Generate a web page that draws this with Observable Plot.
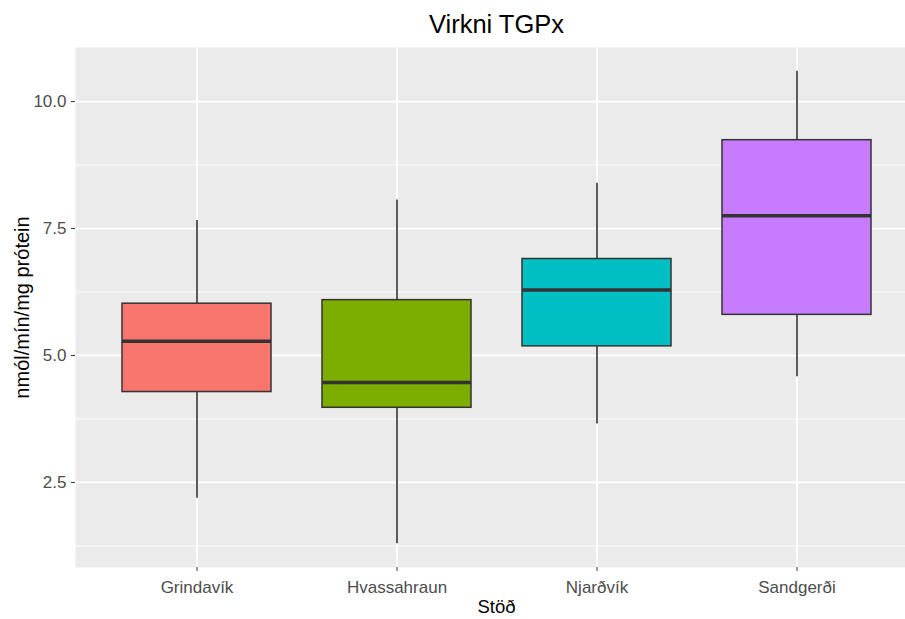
<!DOCTYPE html>
<html>
<head>
<meta charset="utf-8">
<script src="https://cdn.jsdelivr.net/npm/d3@7"></script>
<script src="https://cdn.jsdelivr.net/npm/@observablehq/plot@0.6"></script>
<style>
  html, body { margin: 0; padding: 0; background: #ffffff; overflow: hidden; }
  body { width: 905px; height: 619px; font-family: "Liberation Sans", Arial, sans-serif; }
  #head { position: relative; width: 905px; height: 40px; }
  #title { position: absolute; left: 75px; width: 843px; top: 12px; text-align: center;
           font-size: 25.5px; line-height: 25.5px; color: #000; }
  #chart svg { display: block; overflow: visible; }
</style>
</head>
<body>
<div id="head"><div id="title">Virkni TGPx</div></div>
<div id="chart"></div>
<script>
// Stations and five-number summaries of TGPx activity (nmól/mín/mg prótein)
const sites = ["Grindavík", "Hvassahraun", "Njarðvík", "Sandgerði"];
const whiskerLow = [2.19, 1.29, 3.65, 4.58];
const lowerQuartile = [4.28, 3.97, 5.18, 5.80];
const median = [5.28, 4.47, 6.29, 7.75];
const upperQuartile = [6.02, 6.09, 6.90, 9.24];
const whiskerHigh = [7.66, 8.06, 8.39, 10.60];

const siteColors = ["#F8766D", "#7CAE00", "#00BFC4", "#C77CFF"];
const majorTicks = [2.5, 5.0, 7.5, 10.0];
const minorTicks = [1.25, 3.75, 6.25, 8.75];
const xTitle = ["Stöð"];
const yTitle = ["nmól/mín/mg prótein"];

const boxes = sites.map((site, i) => ({
  site,
  lo: whiskerLow[i],
  q1: lowerQuartile[i],
  med: median[i],
  q3: upperQuartile[i],
  hi: whiskerHigh[i]
}));

// ggplot-style 5% expansion of the continuous axis
const yMin = d3.min(whiskerLow), yMax = d3.max(whiskerHigh);
const pad = (yMax - yMin) * 0.05;

const ink = "#333333";

const chart = Plot.plot({
  width: 905,
  height: 579,
  marginLeft: 75,
  marginRight: 0,
  marginTop: 7,
  marginBottom: 52,
  style: { fontFamily: "Liberation Sans, Arial, sans-serif", background: "transparent" },
  x: { type: "band", domain: sites, range: [75, 918], paddingInner: 0.256, paddingOuter: 0.228, align: 0.5, label: null },
  y: { domain: [yMin - pad, yMax + pad], label: null },
  color: { domain: sites, range: siteColors },
  marks: [
    Plot.frame({ fill: "#EBEBEB", stroke: "none" }),
    Plot.ruleY(minorTicks, { stroke: "#ffffff", strokeWidth: 0.9 }),
    Plot.ruleY(majorTicks, { stroke: "#ffffff", strokeWidth: 1.8 }),
    Plot.ruleX(sites, { stroke: "#ffffff", strokeWidth: 1.8 }),
    // whiskers
    Plot.ruleX(boxes, { x: "site", y1: "hi", y2: "q3", stroke: ink, strokeWidth: 1.6 }),
    Plot.ruleX(boxes, { x: "site", y1: "q1", y2: "lo", stroke: ink, strokeWidth: 1.6 }),
    // interquartile boxes
    Plot.barY(boxes, { x: "site", y1: "q1", y2: "q3", fill: "site", stroke: ink, strokeWidth: 1.5 }),
    // medians
    Plot.tickY(boxes, { x: "site", y: "med", stroke: ink, strokeWidth: 3.5 }),
    Plot.axisY(majorTicks, {
      tickFormat: d3.format(".1f"), tickSize: 4, tickPadding: 5, stroke: ink,
      fill: "#4D4D4D", fontSize: 17, label: null
    }),
    Plot.axisX(sites, {
      tickSize: 4, tickPadding: 9, stroke: ink, fill: "#4D4D4D", fontSize: 17, label: null
    }),
    // axis titles
    Plot.text(xTitle, { frameAnchor: "bottom", lineAnchor: "middle", textAnchor: "middle", text: d => d, dx: 6, dy: 40, fontSize: 18.5, fill: "#000" }),
    Plot.text(yTitle, { frameAnchor: "left", lineAnchor: "middle", textAnchor: "middle", text: d => d, rotate: -90, dx: -53, fontSize: 20, fill: "#000" })
  ]
});

document.getElementById("chart").appendChild(chart);
</script>
</body>
</html>
